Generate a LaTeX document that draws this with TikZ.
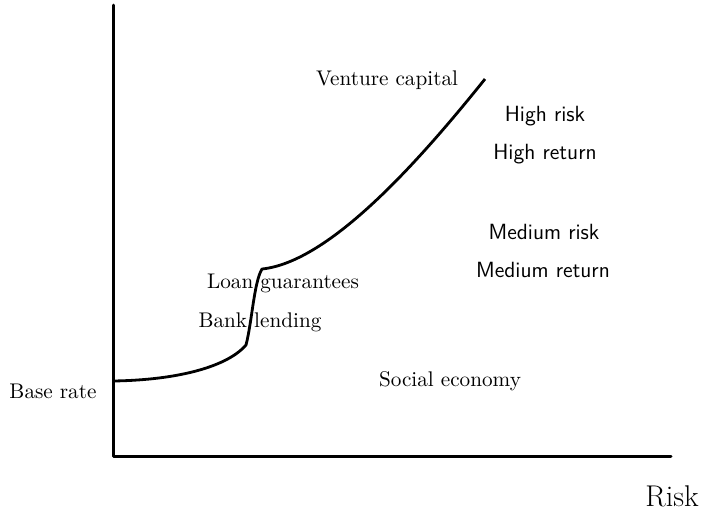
\documentclass[tikz,border=0pt]{standalone}
\begin{document}
\begin{tikzpicture}[x={(0.5pt,0)},y={(0,-0.5pt)},
  axis/.style={line width=1.5pt,line cap=round,line join=round},
  curve/.style={line width=1.4pt,line join=round},
  serif/.style={font=\fontsize{10.6}{12}\selectfont},
  sans/.style={font=\fontsize{11}{13}\sffamily\selectfont},
  big/.style={font=\fontsize{15}{18}\selectfont}]
\useasboundingbox (0,0) rectangle (703,521);
\coordinate (top) at (113,5);
\coordinate (origin) at (113,456);
\coordinate (right) at (671,456);
\draw[axis] (top) -- (origin) -- (right);
\coordinate (c0) at (113,381);
\coordinate (c1) at (246,345);
\coordinate (c2) at (262,269);
\coordinate (c3) at (485,79);
\draw[curve] (c0) .. controls (180,380) and (228,366) .. (c1)
  .. controls (252,322) and (254,282) .. (c2)
  .. controls (330,262) and (420,160) .. (c3);
\node[serif] (vc) at (387,80) {Venture capital};
\node[sans] (hr) at (545,116) {High risk};
\node[sans] (hret) at (545,154) {High return};
\node[sans] (mr) at (544,232) {Medium risk};
\node[sans] (mret) at (543,270) {Medium return};
\node[serif] (lg) at (283,283) {Loan guarantees};
\node[serif] (bl) at (260,322) {Bank lending};
\node[serif] (br) at (53,391) {Base rate};
\node[serif] (se) at (450,381) {Social economy};
\node[big] (risk) at (672,496) {Risk};
\end{tikzpicture}
\end{document}
